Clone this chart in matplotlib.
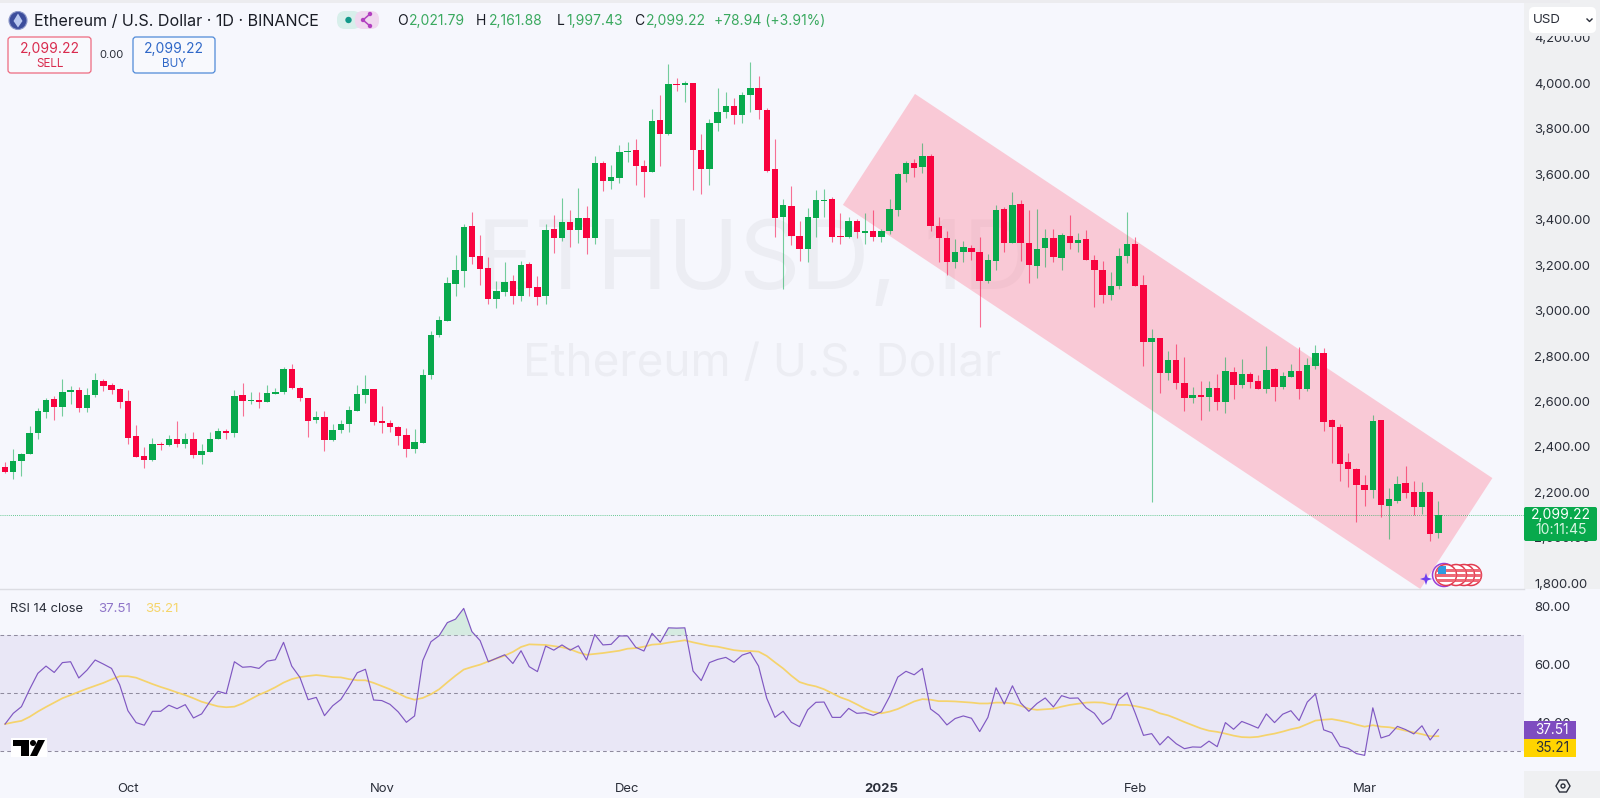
"""Ethereum daily candles with RSI pane, TradingView look."""
import matplotlib
matplotlib.use("Agg")
import matplotlib.pyplot as plt
import numpy as np
from matplotlib.patches import Circle, FancyBboxPatch, Polygon, Rectangle

plt.rcParams["font.family"] = ["Inter", "DejaVu Sans"]

W, H = 1600, 798
BG = "#f6f7fd"
AXIS_GRAY = "#eff0f2"
TEXT = "#2a2e39"
UP = "#08a94c"
DOWN = "#f8023e"

opens = [
    2312, 2290, 2337, 2369, 2460, 2555, 2611, 2576, 2640, 2650,
    2571, 2627, 2692, 2672, 2653, 2601, 2447, 2362, 2344, 2413,
    2409, 2435, 2414, 2435, 2363, 2378, 2433, 2472, 2461, 2627,
    2602, 2605, 2596, 2634, 2640, 2743, 2659, 2615, 2517, 2530,
    2431, 2473, 2502, 2560, 2630, 2655, 2511, 2507, 2488, 2451,
    2390, 2419, 2718, 2891, 2954, 3118, 3176, 3372, 3240, 3187,
    3051, 3082, 3130, 3066, 3205, 3105, 3064, 3357, 3319, 3388,
    3354, 3407, 3318, 3649, 3570, 3583, 3699, 3705, 3636, 3611,
    3838, 3777, 3997, 3991, 4003, 3706, 3621, 3825, 3874, 3900,
    3860, 3950, 3979, 3882, 3623, 3413, 3460, 3330, 3271, 3409,
    3482, 3491, 3327, 3322, 3396, 3343, 3350, 3325, 3350, 3443,
    3601, 3651, 3633, 3680, 3372, 3321, 3214, 3258, 3277, 3259,
    3129, 3220, 3447, 3299, 3469, 3297, 3195, 3275, 3319, 3231,
    3330, 3297, 3315, 3222, 3179, 3069, 3108, 3240, 3291, 3111,
    2862, 2879, 2727, 2782, 2681, 2614, 2628, 2621, 2658, 2596,
    2730, 2672, 2721, 2690, 2653, 2743, 2664, 2709, 2736, 2656,
    2758, 2815, 2517, 2488, 2334, 2304, 2234, 2210, 2518, 2141,
    2161, 2240, 2202, 2136, 2202, 2021.79,
]
closes = [
    2290, 2338, 2369, 2461, 2557, 2608, 2576, 2642, 2650, 2571,
    2628, 2693, 2670, 2650, 2596, 2441, 2356, 2344, 2413, 2409,
    2435, 2414, 2435, 2363, 2381, 2433, 2472, 2463, 2624, 2602,
    2605, 2599, 2636, 2642, 2743, 2659, 2615, 2516, 2530, 2432,
    2475, 2501, 2562, 2633, 2653, 2511, 2507, 2486, 2450, 2392,
    2420, 2718, 2892, 2957, 3123, 3178, 3368, 3237, 3183, 3051,
    3086, 3126, 3066, 3202, 3099, 3060, 3354, 3319, 3390, 3354,
    3409, 3318, 3649, 3572, 3588, 3698, 3703, 3635, 3608, 3834,
    3777, 3995, 3991, 4003, 3706, 3621, 3827, 3874, 3899, 3860,
    3948, 3978, 3882, 3616, 3409, 3464, 3328, 3271, 3413, 3485,
    3486, 3324, 3324, 3396, 3344, 3350, 3324, 3350, 3445, 3601,
    3649, 3627, 3680, 3372, 3318, 3214, 3259, 3280, 3258, 3130,
    3221, 3443, 3299, 3466, 3297, 3202, 3272, 3319, 3234, 3332,
    3299, 3310, 3222, 3177, 3069, 3108, 3242, 3293, 3108, 2863,
    2879, 2725, 2782, 2683, 2617, 2628, 2621, 2658, 2596, 2734,
    2672, 2721, 2686, 2653, 2738, 2665, 2712, 2734, 2656, 2760,
    2815, 2511, 2489, 2325, 2304, 2232, 2210, 2516, 2143, 2169,
    2237, 2199, 2134, 2202, 2015, 2099.22,
]
highs = [
    2332, 2391, 2372, 2492, 2570, 2614, 2626, 2697, 2668, 2665,
    2658, 2724, 2699, 2680, 2658, 2650, 2496, 2398, 2438, 2423,
    2452, 2513, 2460, 2464, 2413, 2464, 2482, 2477, 2650, 2680,
    2642, 2642, 2671, 2661, 2750, 2763, 2662, 2615, 2557, 2558,
    2501, 2518, 2580, 2671, 2718, 2655, 2582, 2518, 2492, 2485,
    2477, 2741, 2910, 2976, 3149, 3244, 3381, 3434, 3332, 3234,
    3129, 3214, 3156, 3217, 3214, 3152, 3381, 3420, 3494, 3442,
    3538, 3460, 3680, 3657, 3640, 3730, 3743, 3755, 3662, 3885,
    3948, 4085, 4022, 4010, 4003, 3775, 3841, 3979, 3962, 3934,
    3963, 4095, 4032, 3890, 3753, 3491, 3550, 3393, 3453, 3530,
    3536, 3501, 3428, 3410, 3401, 3428, 3442, 3357, 3489, 3607,
    3660, 3665, 3736, 3689, 3410, 3350, 3313, 3308, 3289, 3325,
    3247, 3465, 3454, 3520, 3485, 3442, 3445, 3357, 3357, 3340,
    3421, 3343, 3354, 3243, 3218, 3168, 3274, 3434, 3322, 3157,
    2917, 2879, 2822, 2853, 2794, 2665, 2692, 2692, 2719, 2794,
    2753, 2785, 2731, 2716, 2844, 2749, 2731, 2765, 2841, 2793,
    2848, 2835, 2524, 2501, 2375, 2306, 2276, 2540, 2518, 2218,
    2272, 2316, 2252, 2246, 2205, 2161.88,
]
lows = [
    2285, 2260, 2272, 2369, 2436, 2526, 2518, 2536, 2589, 2554,
    2555, 2618, 2648, 2633, 2573, 2413, 2354, 2309, 2338, 2386,
    2404, 2398, 2397, 2350, 2325, 2378, 2433, 2435, 2442, 2536,
    2587, 2571, 2596, 2631, 2634, 2653, 2602, 2445, 2504, 2382,
    2425, 2460, 2466, 2560, 2595, 2498, 2463, 2467, 2408, 2356,
    2375, 2416, 2699, 2885, 2954, 3064, 3105, 3203, 3114, 3029,
    3010, 3066, 3029, 3044, 3064, 3024, 3029, 3255, 3308, 3281,
    3299, 3249, 3293, 3525, 3533, 3563, 3654, 3551, 3500, 3611,
    3638, 3771, 3968, 3919, 3530, 3513, 3551, 3792, 3847, 3821,
    3827, 3875, 3841, 3611, 3324, 3093, 3287, 3220, 3215, 3325,
    3410, 3303, 3294, 3318, 3318, 3293, 3308, 3303, 3337, 3416,
    3567, 3589, 3607, 3350, 3215, 3155, 3189, 3215, 3222, 2926,
    3123, 3178, 3259, 3299, 3220, 3120, 3142, 3193, 3215, 3179,
    3272, 3259, 3222, 3017, 3035, 3046, 3093, 3208, 3108, 2756,
    2156, 2636, 2694, 2653, 2560, 2592, 2518, 2558, 2562, 2551,
    2612, 2661, 2658, 2653, 2636, 2602, 2653, 2706, 2612, 2648,
    2743, 2472, 2331, 2252, 2225, 2071, 2140, 2175, 2093, 1993,
    2155, 2174, 2100, 2105, 1987, 1997.43,
]
rsi = [
    39.4, 43.1, 45.4, 51.4, 56.9, 59.4, 57.2, 60.6, 60.9, 55.3,
    58.0, 61.5, 60.1, 58.6, 52.9, 44.0, 39.9, 39.0, 43.8, 43.8,
    45.9, 44.7, 46.1, 41.5, 42.9, 47.1, 50.7, 49.9, 60.9, 59.0,
    59.2, 58.6, 61.1, 61.6, 67.6, 59.4, 55.5, 47.8, 48.6, 42.3,
    45.7, 47.9, 52.3, 57.1, 58.3, 47.7, 47.5, 46.2, 43.6, 40.0,
    42.2, 61.3, 67.8, 69.9, 74.4, 75.6, 79.3, 71.3, 68.2, 60.9,
    62.1, 63.3, 60.3, 64.7, 59.2, 57.5, 66.3, 64.9, 66.7, 64.9,
    66.4, 61.5, 70.3, 66.7, 66.9, 69.8, 69.8, 65.9, 64.6, 70.7,
    67.6, 72.6, 72.5, 72.6, 57.7, 54.4, 60.6, 61.7, 62.4, 60.7,
    63.2, 64.1, 59.4, 48.3, 41.7, 43.8, 40.0, 38.5, 44.3, 46.9,
    47.0, 41.7, 41.7, 44.8, 43.1, 43.3, 42.4, 43.6, 48.9, 55.6,
    57.6, 56.4, 58.6, 44.6, 42.5, 39.1, 41.3, 42.2, 41.4, 36.8,
    41.7, 51.9, 46.3, 52.6, 46.7, 43.8, 46.5, 48.4, 45.3, 49.2,
    48.3, 48.4, 45.0, 43.1, 39.3, 41.3, 47.9, 50.2, 43.1, 35.5,
    36.1, 32.2, 35.1, 32.6, 30.9, 31.5, 31.4, 33.5, 31.6, 39.9,
    37.6, 40.3, 39.2, 38.0, 42.9, 39.9, 42.8, 44.0, 40.6, 47.0,
    49.8, 37.4, 36.4, 31.7, 31.0, 29.2, 28.6, 45.0, 34.6, 35.5,
    38.6, 37.5, 36.0, 38.8, 33.9, 37.51,
]
rsi_ma = [
    39.4, 40.0, 40.5, 41.9, 43.7, 45.3, 46.8, 48.3, 49.4, 50.5,
    51.6, 52.6, 53.6, 54.8, 55.9, 55.9, 55.4, 54.3, 53.2, 52.2,
    51.3, 50.3, 49.4, 48.3, 47.1, 46.3, 45.5, 45.2, 45.4, 46.5,
    48.0, 49.5, 50.7, 52.1, 53.7, 54.9, 55.6, 56.0, 56.3, 56.0,
    55.6, 55.5, 54.9, 54.5, 54.5, 53.6, 52.5, 51.4, 50.0, 48.6,
    47.8, 48.4, 49.7, 51.4, 53.8, 56.1, 58.2, 59.1, 59.9, 61.0,
    62.0, 63.0, 64.3, 66.0, 66.9, 66.8, 66.7, 66.3, 65.9, 65.2,
    64.1, 63.3, 63.6, 63.9, 64.3, 64.7, 65.4, 65.6, 66.1, 66.8,
    67.0, 67.5, 67.9, 68.3, 67.6, 67.0, 66.4, 66.1, 65.5, 64.9,
    64.6, 64.6, 64.4, 62.9, 60.7, 58.6, 56.1, 53.9, 53.0, 52.4,
    51.4, 50.0, 48.6, 47.6, 46.2, 44.7, 43.6, 43.1, 43.7, 44.6,
    45.9, 47.2, 48.0, 47.8, 47.3, 47.3, 47.2, 47.0, 46.8, 46.5,
    46.5, 46.8, 46.8, 46.5, 45.7, 44.7, 44.3, 44.5, 44.7, 45.4,
    46.0, 46.4, 46.8, 46.9, 46.8, 46.2, 46.0, 46.0, 45.6, 45.0,
    44.3, 43.1, 42.4, 41.3, 40.1, 39.0, 37.9, 37.1, 36.7, 36.1,
    35.4, 34.9, 34.8, 35.0, 35.6, 36.1, 36.8, 37.6, 38.2, 39.4,
    40.6, 40.9, 41.1, 40.6, 40.0, 39.2, 38.5, 39.0, 38.5, 38.3,
    37.8, 37.1, 36.5, 35.9, 35.2, 35.21,
]
# channel drawn on the chart: bar index, price
channel_x = [102.3, 111.1, 181.6, 172.8]
channel_y = [3465, 3953, 2263, 1775]

price_ticks = [1800, 2000, 2200, 2400, 2600, 2800, 3000, 3200, 3400, 3600, 3800, 4000, 4200]
rsi_ticks = [40, 60, 80]
time_ticks = [15, 46, 76, 107, 138, 166]
time_labels = ["Oct", "Nov", "Dec", "2025", "Feb", "Mar"]

last_price = 2099.22
countdown = "10:11:45"


def pane(y_top, y_bottom):
    return [0, 1 - y_bottom / H, 1524 / W, (y_bottom - y_top) / H]


fig = plt.figure(figsize=(16, 7.98), dpi=100, facecolor=BG)

# gray strip behind the price scale
fig.add_artist(Rectangle((1524 / W, 1 - 589 / H), 76 / W, 589 / H, transform=fig.transFigure,
                         facecolor=AXIS_GRAY, edgecolor="none", zorder=-2))

x = np.arange(len(closes))
o, h, l, c = map(np.array, (opens, highs, lows, closes))
colors = np.where(c >= o, UP, DOWN)
xlim = (-0.619, 185.46)

# price pane
ax = fig.add_axes(pane(3, 589))
ax.patch.set_visible(False)
ax.set_xlim(*xlim)
ax.set_ylim(1775, 4353)
ax.text(91.5, 3205, "ETHUSD, 1D", ha="center", va="center", fontsize=69, color="#ecedf3", zorder=0)
ax.text(92.4, 2766, "Ethereum / U.S. Dollar", ha="center", va="center", fontsize=33, color="#ecedf3", zorder=0)
ax.add_patch(Polygon(list(zip(channel_x, channel_y)), closed=True, facecolor="#ff8aa0", alpha=0.42,
                     edgecolor="none", zorder=1))
ax.axhline(last_price, color=UP, lw=0.6, ls=(0, (1, 1.5)), alpha=0.8, zorder=2)
ax.vlines(x, l, h, colors=colors, lw=0.8, alpha=0.55, zorder=3)
ax.bar(x, np.maximum(np.abs(c - o), 5), bottom=np.minimum(o, c), width=0.78, color=colors, zorder=4)
ax.yaxis.tick_right()
ax.set_yticks(price_ticks)
ax.set_yticklabels([f"{p:,.2f}" for p in price_ticks])
ax.tick_params(axis="y", length=0, pad=7.5, labelsize=9.4, labelcolor=TEXT)
ax.set_xticks([])
for side in ("top", "left", "right"):
    ax.spines[side].set_visible(False)
ax.spines["bottom"].set_color("#dcdde3")
ax.spines["bottom"].set_linewidth(1.0)

# RSI pane
ax2 = fig.add_axes(pane(589, 771))
ax2.patch.set_visible(False)
ax2.set_xlim(*xlim)
ax2.set_ylim(23.2, 86)
ax2.axhspan(30, 70, color="#e9e7f6", lw=0, zorder=0)
for level in (30, 50, 70):
    ax2.axhline(level, color="#8f8b9e", lw=0.75, ls=(0, (3.5, 3)), zorder=1)
r = np.array(rsi)
ax2.fill_between(x, 70, r, where=r >= 70, interpolate=True, color="#c8e6d6", alpha=0.7, lw=0, zorder=1)
ax2.plot(x, rsi_ma, color="#f5d36c", lw=1.25, zorder=2)
ax2.plot(x, rsi, color="#8058c2", lw=0.85, zorder=3)
ax2.yaxis.tick_right()
ax2.set_yticks(rsi_ticks)
ax2.set_yticklabels([f"{v:.2f}" for v in rsi_ticks])
ax2.tick_params(axis="y", length=0, pad=7.5, labelsize=9.4, labelcolor=TEXT)
ax2.set_xticks(time_ticks)
ax2.set_xticklabels(time_labels)
ax2.tick_params(axis="x", length=0, pad=8.7, labelsize=9.4, labelcolor=TEXT)
ax2.get_xticklabels()[3].set_fontweight("bold")
for spine in ax2.spines.values():
    spine.set_visible(False)

# overlay in pixel coordinates for the toolbar bits
ov = fig.add_axes([0, 0, 1, 1], zorder=5)
ov.set_xlim(0, W)
ov.set_ylim(H, 0)
ov.axis("off")


def box(x0, y0, x1, y1, face, edge="none", lw=0.9, rad=3):
    ov.add_patch(FancyBboxPatch((x0, y0), x1 - x0, y1 - y0, boxstyle=f"round,pad=0,rounding_size={rad}",
                                facecolor=face, edgecolor=edge, lw=lw))


def label(px, py, s, color=TEXT, size=9.4, ha="left", **kw):
    ov.text(px, py, s, color=color, fontsize=size, ha=ha, va="center", **kw)


# top band and corner block
ov.add_patch(Rectangle((0, 0), 1570, 3, facecolor="#ececef", edgecolor="none"))
ov.add_patch(Rectangle((1524, 771), 76, 27, facecolor=AXIS_GRAY, edgecolor="none"))
ov.add_patch(Polygon([(1556, 786), (1559.5, 780), (1566.5, 780), (1570, 786), (1566.5, 792), (1559.5, 792)],
                     closed=True, facecolor="none", edgecolor=TEXT, lw=1))
ov.add_patch(Circle((1563, 786), 2, facecolor="none", edgecolor=TEXT, lw=1))

# header
GREEN_TXT = "#3aa95f"
ov.add_patch(Circle((18, 20.5), 9, facecolor="#3c4d9c", edgecolor="#8b97c9", lw=0.8))
ov.add_patch(Polygon([(18, 13.5), (22.5, 21), (18, 27.5), (13.5, 21)], closed=True, facecolor="#b9c8f0", edgecolor="none"))
label(33.5, 21, "Ethereum / U.S. Dollar · 1D · BINANCE", color="#1a1d26", size=11.6)
box(337, 11, 361, 29, "#d8efeb", rad=8)
box(355, 11, 379, 29, "#f0d8ef", rad=8)
ov.add_patch(Circle((348.5, 20), 3.2, facecolor="#12998a", edgecolor="none"))
ov.plot([370, 363, 370], [14, 20, 26], color="#b23fc0", lw=1.1)
for sx, sy in ((370, 14), (363, 20), (370, 26)):
    ov.add_patch(Circle((sx, sy), 2.2, facecolor="#b23fc0", edgecolor="none"))
ohlc = [(397, "O", 409, "2,021.79"), (476, "H", 489, "2,161.88"), (557, "L", 566, "1,997.43"), (634, "C", 646, "2,099.22")]
for kx, key, vx, val in ohlc:
    label(kx, 21, key, color="#1a1d26", size=10)
    label(vx, 21, val, color=GREEN_TXT, size=10)
label(714, 21, "+78.94 (+3.91%)", color=GREEN_TXT, size=10)

# sell / buy buttons
box(8, 37, 91, 73, "#f8f9fd", edge="#ee6a80")
label(50, 49.5, "2,099.22", color="#d92b4e", size=10, ha="center")
label(50, 64, "SELL", color="#d92b4e", size=8.4, ha="center")
label(112, 54.5, "0.00", color=TEXT, size=8, ha="center")
box(133, 37, 215, 73, "#f8f9fd", edge="#4f8ad8")
label(174, 49.5, "2,099.22", color="#2f68c8", size=10, ha="center")
label(174, 64, "BUY", color="#2f68c8", size=8.4, ha="center")

# USD selector, its lower edge cuts the top tick label
ov.add_patch(Rectangle((1526, 30), 72, 6, facecolor=AXIS_GRAY, edgecolor="none"))
box(1529, 7, 1596, 33, "white", rad=5)
label(1533, 20, "USD", color=TEXT, size=9.6)
ov.plot([1587, 1589.5, 1592], [19, 21.5, 19], color=TEXT, lw=1)

# price tag and RSI tags
box(1524, 507, 1597, 541, UP, rad=2)
label(1561, 515.5, "2,099.22", color="white", size=10, ha="center")
label(1561, 530.5, countdown, color="#d7f5e2", size=10, ha="center")
ov.add_patch(Rectangle((1524, 721), 52, 18, facecolor="#7e4cc0", edgecolor="none"))
ov.add_patch(Rectangle((1524, 739), 52, 18, facecolor="#ffd400", edgecolor="none"))
label(1552, 730, "37.51", color="white", size=9.8, ha="center")
label(1552, 748, "35.21", color=TEXT, size=9.8, ha="center")

# RSI legend
label(9.5, 609, "RSI 14 close", size=9.3)
label(98, 609, "37.51", color="#8f75c8", size=9.6)
label(145, 609, "35.21", color="#f5d56a", size=9.6)

# logo
ov.add_patch(Rectangle((11, 738), 36, 19, facecolor="white", edgecolor="none"))
ov.add_patch(Polygon([(13, 740), (29, 740), (29, 756), (20.5, 756), (20.5, 746), (13, 746)], closed=True,
                     facecolor="black", edgecolor="none"))
ov.add_patch(Circle((33, 743), 3, facecolor="black", edgecolor="none"))
ov.add_patch(Polygon([(38, 740), (45, 740), (37, 756), (30, 756)], closed=True, facecolor="black", edgecolor="none"))

# news badge: crescent, star and flag coins
ov.add_patch(Circle((1444, 575), 11.5, facecolor="none", edgecolor="#9b3fd6", lw=1.1))
front = None
for cx in (1471, 1464, 1456, 1446):
    coin = Circle((cx, 575), 10.5, facecolor="white", edgecolor="#e23b50", lw=1.1)
    ov.add_patch(coin)
    for sy in (569, 574, 579):
        stripe = Rectangle((cx - 11, sy), 22, 2.6, facecolor="#ee6a78", edgecolor="none")
        ov.add_patch(stripe)
        stripe.set_clip_path(coin)
    front = coin
canton = Rectangle((1438, 566), 8, 8, facecolor="#2f9be0", edgecolor="none")
ov.add_patch(canton)
canton.set_clip_path(front)
ov.add_patch(Polygon([(1426, 573), (1427.5, 577.5), (1432, 579), (1427.5, 580.5), (1426, 585), (1424.5, 580.5),
                      (1420, 579), (1424.5, 577.5)], closed=True, facecolor="#6f3ff0", edgecolor="none"))

fig.savefig("out.png", dpi=100, facecolor=BG)
plt.close(fig)
